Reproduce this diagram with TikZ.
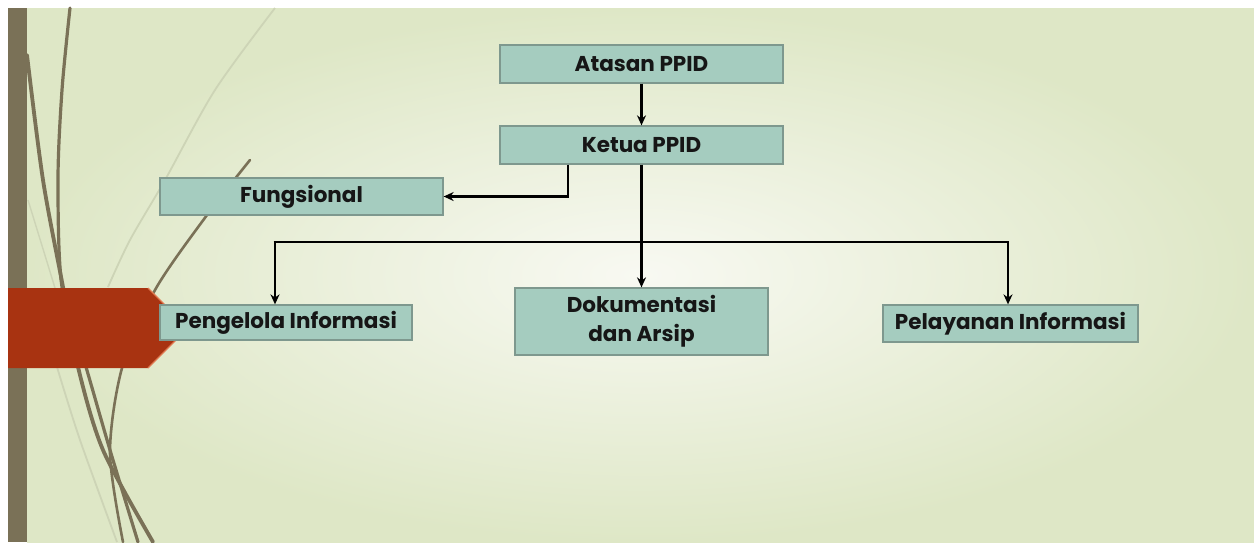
\documentclass[tikz,border=0pt]{standalone}
\usepackage{fontspec}
\setmainfont{Poppins}
\usetikzlibrary{arrows.meta}
\definecolor{boxfill}{HTML}{A5CCBF}
\definecolor{boxline}{HTML}{7E988E}
\definecolor{olive}{HTML}{7A7157}
\definecolor{faint}{HTML}{CDD4B6}
\definecolor{redc}{HTML}{A83311}
\definecolor{redhi}{HTML}{E07A52}
\definecolor{bgout}{HTML}{DEE7C6}
\definecolor{bgin}{HTML}{F8F9F2}
\definecolor{txt}{HTML}{161616}
\tikzset{
  orgbox/.style={draw=boxline, line width=1.3pt, fill=boxfill, text=txt,
    font=\fontsize{21.5}{29}\selectfont\bfseries, align=center,
    inner sep=0pt, minimum height=#1},
  orgbox/.default=38,
  conn/.style={draw=black, line width=2.8pt},
  arr/.style={conn, -{Stealth[length=10pt,width=9pt]}},
  curve/.style={draw=olive, line width=#1, line cap=round},
  curve/.default=3pt,
}
\begin{document}
\begin{tikzpicture}[x=1pt,y=-1pt]
\useasboundingbox (0,0) rectangle (1254,542);
\fill[white] (0,0) rectangle (1254,542);
\shade[inner color=bgin, outer color=bgout] (27,8) rectangle (1254,542);
\fill[olive] (8,8) rectangle (27,542);
% decorative curves
\draw[faint, line width=1.8pt] plot[smooth] coordinates {(275,8) (215,90) (165,180) (130,240) (108,287)};
\draw[faint, line width=1.8pt] plot[smooth] coordinates {(57,367) (80,440) (117,542)};
\draw[faint, line width=1.4pt] (28,200) -- (55,288);
\draw[curve=3.8pt] plot[smooth] coordinates {(27,55) (43,180) (63,287) (78,367) (103,450) (153,542)};
\draw[curve=3.2pt] plot[smooth] coordinates {(70,8) (62,90) (58,180) (62,287) (86,367) (110,450) (138,542)};
\draw[curve=2.6pt] plot[smooth] coordinates {(250,160) (207,215) (155,290) (122,368) (110,453) (123,542)};
% red tab
\fill[redc] (8,288) -- (148,288) -- (188,328) -- (148,368) -- (8,368) -- cycle;
\draw[redhi, line width=1.2pt] (148,288) -- (188,328) -- (148,368);
% boxes
\node[orgbox, minimum width=283] (atasan) at (641.5,64) {Atasan PPID};
\node[orgbox, minimum width=283] (ketua) at (641.5,145) {Ketua PPID};
\node[orgbox=37, minimum width=283] (fungsional) at (301.5,196.5) {Fungsional};
\node[orgbox=35, minimum width=252] (pengelola) at (286,322.5) {Pengelola Informasi};
\node[orgbox=67, minimum width=253] (dokumentasi) at (641.5,321.5) {Dokumentasi\\dan Arsip};
\node[orgbox=37, minimum width=255] (pelayanan) at (1010.5,323.5) {Pelayanan Informasi};
% connectors
\coordinate (fork) at ([xshift=-73.5]ketua.south);
\coordinate (busL) at (275,242);
\coordinate (busR) at (1008,242);
\draw[arr] (atasan) -- (ketua);
\draw[arr] (fork) |- (fungsional.east);
\draw[arr] (ketua) -- (dokumentasi);
\draw[conn] ([xshift=-1.4pt]busL) -- ([xshift=1.4pt]busR);
\draw[arr] (busL) -- (busL |- pengelola.north);
\draw[arr] (busR) -- (busR |- pelayanan.north);
\end{tikzpicture}
\end{document}
